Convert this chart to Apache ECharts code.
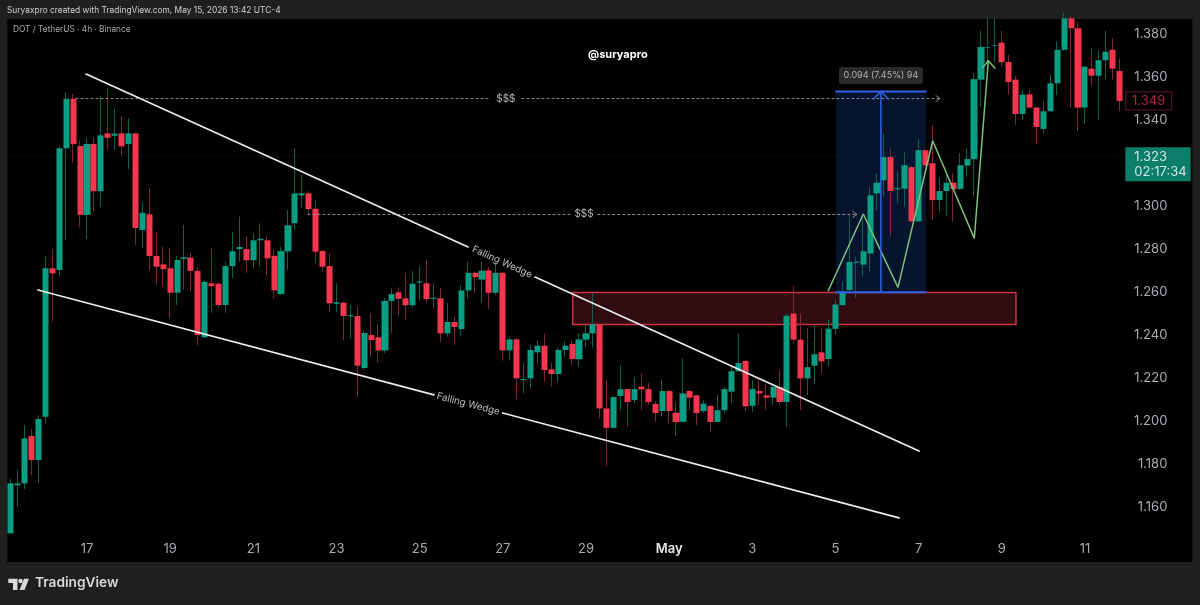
<!DOCTYPE html>
<html><head><meta charset="utf-8">
<style>html,body{margin:0;padding:0;background:#1f1f1f}#c{width:1200px;height:605px}</style>
<script src="https://cdn.jsdelivr.net/npm/echarts@6/dist/echarts.min.js"></script>
</head><body><div id="c"></div>
<script>
// [open, close, low, high] per 4h candle
const ohlc = [
[1.1480,1.1713,1.1480,1.1733],[1.1704,1.1712,1.1604,1.1775],[1.1713,1.1922,1.1686,1.1984],[1.1933,1.1821,1.1751,1.1964],
[1.1821,1.2012,1.1715,1.2030],[1.2022,1.2713,1.1992,1.2770],[1.2713,1.2689,1.2464,1.2801],[1.2705,1.3271,1.2674,1.3278],
[1.3271,1.3501,1.2844,1.3531],[1.3501,1.3291,1.3204,1.3523],[1.3281,1.2961,1.2903,1.3306],[1.2961,1.3291,1.2850,1.3317],
[1.3291,1.3071,1.2975,1.3322],[1.3071,1.3331,1.2999,1.3511],[1.3340,1.3320,1.3263,1.3553],[1.3329,1.3339,1.3263,1.3455],
[1.3340,1.3280,1.3232,1.3421],[1.3291,1.3340,1.3174,1.3410],[1.3340,1.2900,1.2821,1.3343],[1.2891,1.2971,1.2806,1.3022],
[1.2964,1.2770,1.2705,1.3085],[1.2770,1.2720,1.2635,1.2883],[1.2731,1.2709,1.2630,1.2813],[1.2713,1.2599,1.2481,1.2806],
[1.2599,1.2751,1.2542,1.2770],[1.2757,1.2764,1.2612,1.2914],[1.2762,1.2701,1.2607,1.2784],[1.2701,1.2402,1.2356,1.2719],
[1.2392,1.2650,1.2388,1.2658],[1.2643,1.2630,1.2505,1.2806],[1.2641,1.2542,1.2528,1.2649],[1.2542,1.2723,1.2505,1.2742],
[1.2723,1.2792,1.2666,1.2883],[1.2802,1.2812,1.2743,1.2953],[1.2802,1.2750,1.2691,1.2863],[1.2750,1.2843,1.2714,1.2877],
[1.2843,1.2850,1.2719,1.2922],[1.2843,1.2759,1.2674,1.2860],[1.2771,1.2610,1.2574,1.2798],[1.2593,1.2793,1.2588,1.2812],
[1.2792,1.2913,1.2705,1.2984],[1.2922,1.3061,1.2891,1.3271],[1.3052,1.3061,1.2992,1.3147],[1.3061,1.2988,1.2965,1.3072],
[1.2990,1.2790,1.2736,1.3030],[1.2793,1.2720,1.2697,1.2798],[1.2723,1.2550,1.2511,1.2782],[1.2548,1.2555,1.2511,1.2643],
[1.2553,1.2491,1.2379,1.2558],[1.2489,1.2494,1.2387,1.2542],[1.2491,1.2260,1.2115,1.2534],[1.2249,1.2412,1.2240,1.2426],
[1.2402,1.2379,1.2301,1.2503],[1.2392,1.2331,1.2274,1.2453],[1.2331,1.2561,1.2319,1.2574],[1.2561,1.2593,1.2413,1.2620],
[1.2601,1.2571,1.2488,1.2624],[1.2573,1.2541,1.2472,1.2692],[1.2541,1.2641,1.2527,1.2701],[1.2647,1.2652,1.2566,1.2723],
[1.2643,1.2570,1.2553,1.2751],[1.2571,1.2576,1.2528,1.2644],[1.2573,1.2410,1.2371,1.2620],[1.2410,1.2463,1.2395,1.2551],
[1.2463,1.2440,1.2356,1.2488],[1.2430,1.2610,1.2395,1.2635],[1.2610,1.2692,1.2573,1.2743],[1.2692,1.2671,1.2598,1.2697],
[1.2660,1.2701,1.2553,1.2743],[1.2703,1.2599,1.2523,1.2719],[1.2599,1.2692,1.2588,1.2737],[1.2692,1.2331,1.2283,1.2695],
[1.2331,1.2382,1.2283,1.2395],[1.2382,1.2201,1.2103,1.2388],[1.2193,1.2198,1.2131,1.2274],[1.2201,1.2333,1.2154,1.2356],
[1.2322,1.2353,1.2271,1.2379],[1.2353,1.2240,1.2186,1.2410],[1.2243,1.2221,1.2162,1.2272],[1.2221,1.2333,1.2186,1.2342],
[1.2333,1.2353,1.2301,1.2372],[1.2361,1.2291,1.2263,1.2379],[1.2290,1.2382,1.2254,1.2412],[1.2381,1.2410,1.2345,1.2449],
[1.2410,1.2452,1.2345,1.2597],[1.2452,1.2061,1.2015,1.2454],[1.2061,1.1971,1.1793,1.2194],[1.1971,1.2114,1.1969,1.2119],
[1.2119,1.2151,1.2054,1.2263],[1.2151,1.2091,1.1976,1.2154],[1.2100,1.2151,1.2085,1.2206],[1.2162,1.2150,1.2054,1.2224],
[1.2151,1.2091,1.2077,1.2180],[1.2082,1.2040,1.1999,1.2093],[1.2049,1.2142,1.2022,1.2194],[1.2142,1.2049,1.1992,1.2147],
[1.2041,1.1998,1.1933,1.2093],[1.1999,1.2131,1.1997,1.2294],[1.2142,1.2111,1.2054,1.2147],[1.2122,1.2040,1.1984,1.2124],
[1.2049,1.2083,1.2040,1.2100],[1.2073,1.1998,1.1953,1.2077],[1.1998,1.2053,1.1997,1.2124],[1.2053,1.2151,1.2039,1.2162],
[1.2139,1.2234,1.2085,1.2255],[1.2234,1.2272,1.2232,1.2410],[1.2282,1.2071,1.2046,1.2286],[1.2073,1.2151,1.2046,1.2194],
[1.2142,1.2130,1.2077,1.2194],[1.2122,1.2111,1.2054,1.2178],[1.2111,1.2161,1.2077,1.2170],[1.2161,1.2091,1.2077,1.2240],
[1.2091,1.2492,1.1976,1.2503],[1.2502,1.2381,1.2364,1.2630],[1.2381,1.2201,1.2054,1.2503],[1.2201,1.2253,1.2124,1.2434],
[1.2260,1.2313,1.2175,1.2449],[1.2322,1.2280,1.2225,1.2434],[1.2291,1.2432,1.2255,1.2473],[1.2431,1.2544,1.2403,1.2566],
[1.2542,1.2600,1.2538,1.2650],[1.2612,1.2742,1.2598,1.2961],[1.2739,1.2744,1.2575,1.2767],[1.2730,1.2792,1.2674,1.2961],
[1.2781,1.3052,1.2697,1.3092],[1.3061,1.3111,1.2984,1.3155],[1.3122,1.3230,1.3046,1.3340],[1.3230,1.3072,1.2860,1.3271],
[1.3080,1.3085,1.3015,1.3162],[1.3083,1.3192,1.2999,1.3255],[1.3183,1.2931,1.2928,1.3189],[1.2931,1.3262,1.2928,1.3313],
[1.3262,1.3192,1.3185,1.3266],[1.3201,1.3030,1.2937,1.3379],[1.3030,1.3072,1.2971,1.3139],[1.3072,1.3110,1.2953,1.3155],
[1.3111,1.3080,1.2930,1.3156],[1.3082,1.3192,1.3077,1.3248],[1.3190,1.3221,1.3139,1.3271],[1.3220,1.3592,1.3046,1.3620],
[1.3590,1.3742,1.3463,1.3818],[1.3739,1.3742,1.3672,1.3880],[1.3748,1.3751,1.3672,1.3877],[1.3762,1.3671,1.3650,1.3818],
[1.3672,1.3579,1.3522,1.3705],[1.3590,1.3430,1.3379,1.3607],[1.3430,1.3520,1.3403,1.3539],[1.3522,1.3460,1.3457,1.3542],
[1.3460,1.3370,1.3291,1.3464],[1.3361,1.3443,1.3341,1.3488],[1.3443,1.3573,1.3440,1.3612],[1.3573,1.3729,1.3519,1.3767],
[1.3729,1.3875,1.3725,1.3900],[1.3875,1.3829,1.3458,1.3890],[1.3829,1.3460,1.3351,1.3860],[1.3460,1.3650,1.3384,1.3654],
[1.3641,1.3608,1.3561,1.3739],[1.3608,1.3680,1.3403,1.3728],[1.3680,1.3720,1.3592,1.3818],[1.3729,1.3641,1.3592,1.3782],
[1.3630,1.3491,1.3444,1.3690]
];
const tickIndexes = [11,23,35,47,59,71,83,95,107,119,131,143,155];
const tickLabels = ['17','19','21','23','25','27','29','May','3','5','7','9','11'];
const priceTicks = [1.38,1.36,1.34,1.30,1.28,1.26,1.24,1.22,1.20,1.18,1.16];
const SLOTS = 171; // candle slots including the empty price-scale area

// drawings as [candle index, price]
const upperWedgeA = [[10.86,1.3616],[66.0,1.2812]];
const upperWedgeB = [[75.65,1.2672],[131.06,1.1863]];
const lowerWedgeA = [[3.93,1.2612],[61.07,1.2124]];
const lowerWedgeB = [[70.98,1.2040],[128.17,1.1552]];
const wedgeLabelUpper = [70.9,1.2742,'Falling Wedge'];
const wedgeLabelLower = [66.0,1.2082,'Falling Wedge'];
const liqTopA = [[9.42,1.3502],[69.15,1.3502]];
const liqTopB = [[73.76,1.3502],[134.09,1.3502]];
const liqTopHead = [[133.5,1.3516],[134.09,1.3502],[133.5,1.3488]];
const liqMidA = [[42.89,1.2963],[80.7,1.2963]];
const liqMidB = [[84.7,1.2963],[122.1,1.2963]];
const liqMidHead = [[121.5,1.2977],[122.1,1.2963],[121.5,1.2949]];
const liqLabels = [[71.45,1.3502,'$$$'],[82.72,1.2963,'$$$']];
const projection = [[117.97,1.2609],[123.02,1.2965],[128.03,1.2624],[133.03,1.3306],[139.04,1.2852],[141.06,1.3678]];
const projectionHead = [[140.3,1.3647],[141.06,1.3678],[142.02,1.3643]];
const rangeBox = {x0:119.08,x1:132.07,top:1.3535,bottom:1.2601,label:'0.094 (7.45%) 94',labelPos:[125.56,1.3609]};
const rangeArrow = [[125.56,1.2601],[125.56,1.3535]];
const rangeHead = [[124.5,1.3500],[125.56,1.3535],[126.65,1.3500]];
const zone = {x0:81.09,x1:145.05,top:1.2600,bottom:1.2451};
const currentLine = [[-0.5,1.3233],[160.5,1.3233]];
const lastClose = [164.2,1.3491,'1.349'];
const priceTag = [160.83,1.3196,'1.323\n02:17:34'];

const GREEN='#0C9E82', RED='#F5364F', GW='#0d5f50', RW='#7e2636';
const categories = Array.from({length:SLOTS},(_,i)=>{
  const k = tickIndexes.indexOf(i);
  const label = k>=0 ? tickLabels[k] : ' ';
  return label==='May' ? {value:label,textStyle:{color:'#e8e8e8',fontWeight:600}} : {value:k>=0?label:'c'+i};
});
const bodies = ohlc.map(d=>[d[0],d[1],Math.min(d[0],d[1]),Math.max(d[0],d[1])]);
const line=(data,color,width,type,z)=>({type:'line',xAxisIndex:1,yAxisIndex:0,data,showSymbol:false,symbol:'none',silent:true,z:z||5,
  lineStyle:{color,width,type:type||'solid',cap:'round'}});
const text=(d,label)=>({type:'scatter',xAxisIndex:1,yAxisIndex:0,data:[d],symbolSize:0,silent:true,z:8,clip:false,
  label:Object.assign({show:true,position:'inside',formatter:p=>p.value[2],fontFamily:'Inter'},label)});
const WEDGE='#ececec', DOT='#8f8f8f', BLUE='#2f62e8', GL='#7cc07c';
const box=(b,fill,border,bw,z)=>({type:'line',xAxisIndex:1,yAxisIndex:0,data:[],silent:true,z:z,
  markArea:{silent:true,animation:false,itemStyle:{color:fill,borderColor:border,borderWidth:bw},data:[[{xAxis:b.x0,yAxis:b.top},{xAxis:b.x1,yAxis:b.bottom}]]}});

const chart=echarts.init(document.getElementById('c'),null,{renderer:'canvas'});
chart.setOption({
  animation:false,backgroundColor:'#1f1f1f',
  grid:{left:7.3,top:19,width:1185.03,height:543,show:true,backgroundColor:'#000',borderWidth:0},
  xAxis:[
    {type:'category',data:categories,boundaryGap:true,axisLine:{show:false},axisTick:{show:false},splitLine:{show:false},
      axisLabel:{inside:true,margin:6,interval:i=>tickIndexes.includes(i),hideOverlap:false,
        formatter:v=>tickLabels.includes(v)?v:'',color:'#a9acb3',fontSize:13,fontFamily:'Inter'}},
    {type:'value',show:false,min:-0.5,max:SLOTS-0.5,splitLine:{show:false}}
  ],
  yAxis:{type:'value',position:'right',min:1.1347,max:1.3872,axisLine:{show:false},axisTick:{show:false},splitLine:{show:false},
    axisLabel:{inside:true,margin:25,color:'#a9acb3',fontSize:13,fontFamily:'Inter',customValues:priceTicks,formatter:v=>v.toFixed(3)}},
  graphic:[
    {type:'text',left:7,top:6,style:{text:'Suryaxpro created with TradingView.com, May 15, 2026 13:42 UTC-4',fill:'#cfcfcf',font:'8.4px Inter'}},
    {type:'text',left:13,top:26,style:{text:'DOT / TetherUS · 4h · Binance',fill:'#a8a8a8',font:'8.3px Inter'}},
    {type:'text',left:588,top:49,style:{text:'@suryapro',fill:'#ffffff',font:'bold 11px Inter'}},
    {type:'text',left:35,top:576,style:{text:'TradingView',fill:'#d9d9d9',font:'600 13.7px Inter'}},
    {type:'group',silent:true,children:[
      {type:'polygon',shape:{points:[[8.3,578.7],[17.5,578.7],[17.5,590],[13,590],[13,583],[8.3,583]]},style:{fill:'#d9d9d9'}},
      {type:'circle',shape:{cx:20.5,cy:581,r:2.2},style:{fill:'#d9d9d9'}},
      {type:'polygon',shape:{points:[[24,578.7],[29,578.7],[24.5,590],[19.5,590]]},style:{fill:'#d9d9d9'}}
    ]}
  ],
  series:[
    box(zone,'#300c10','#c8324a',1.5,1),
    box({x0:rangeBox.x0,x1:rangeBox.x1,top:rangeBox.top,bottom:rangeBox.bottom},'#07142e','transparent',0,1),
    line(currentLine,'rgba(12,158,130,0.18)',1,[1,3],1),
    {type:'candlestick',xAxisIndex:0,yAxisIndex:0,data:ohlc,barWidth:1,silent:true,z:2,
      itemStyle:{color:GW,color0:RW,borderColor:GW,borderColor0:RW,borderWidth:1}},
    {type:'candlestick',xAxisIndex:0,yAxisIndex:0,data:bodies,barWidth:6.6,silent:true,z:3,
      itemStyle:{color:GREEN,color0:RED,borderColor:GREEN,borderColor0:RED,borderWidth:0}},
    line(upperWedgeA,WEDGE,1.7),line(upperWedgeB,WEDGE,1.7),line(lowerWedgeA,WEDGE,1.7),line(lowerWedgeB,WEDGE,1.7),
    text(wedgeLabelUpper,{rotate:-24.35,color:'#e6e6e6',fontSize:9.7}),
    text(wedgeLabelLower,{rotate:-14.8,color:'#e6e6e6',fontSize:9.7}),
    line(liqTopA,DOT,1,[2,3]),line(liqTopB,DOT,1,[2,3]),line(liqTopHead,DOT,1),
    line(liqMidA,DOT,1,[2,3]),line(liqMidB,DOT,1,[2,3]),line(liqMidHead,DOT,1),
    text(liqLabels[0],{color:'#dcdcdc',fontSize:10}),text(liqLabels[1],{color:'#dcdcdc',fontSize:10}),
    line(projection,GL,1.5),line(projectionHead,GL,1.5),
    line([[rangeBox.x0,rangeBox.top],[rangeBox.x1,rangeBox.top]],BLUE,2),
    line([[rangeBox.x0,rangeBox.bottom],[rangeBox.x1,rangeBox.bottom]],BLUE,2),
    line(rangeArrow,BLUE,1.5),line(rangeHead,BLUE,1.5),
    text([rangeBox.labelPos[0],rangeBox.labelPos[1],rangeBox.label],{color:'#d0d0d0',fontSize:9,backgroundColor:'#353535',borderRadius:3,padding:[4,6,4,6],width:72,align:'center'}),
    text(lastClose,{color:'#d5324a',fontSize:13,borderColor:'#74202f',borderWidth:1,padding:[3,4,2,4],width:38,align:'center'}),
    text(priceTag,{color:'#fff',fontSize:13,lineHeight:15.5,backgroundColor:GREEN,padding:[2,0,1,9],width:56.4,align:'left',verticalAlign:'middle'})
  ]
});
</script></body></html>
